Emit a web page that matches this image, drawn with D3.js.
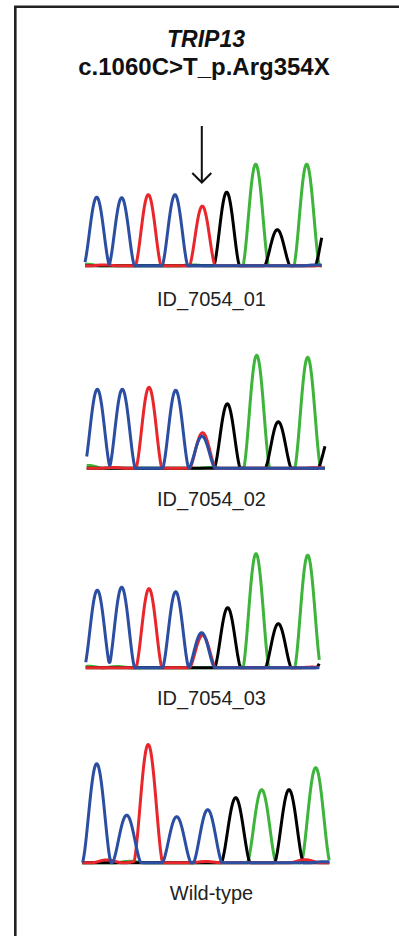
<!DOCTYPE html>
<html>
<head>
<meta charset="utf-8">
<script src="https://cdn.jsdelivr.net/npm/d3@7"></script>
<style>
  body { margin: 0; background: #fff; }
  svg { display: block; font-family: "Liberation Sans", Arial, sans-serif; }
</style>
</head>
<body>
<div id="chart-div"></div>
<script>
// gene / variant
const geneName = "TRIP13";
const variantName = "c.1060C>T_p.Arg354X";

const sampleNames = ["ID_7054_01", "ID_7054_02", "ID_7054_03", "Wild-type"];

// base calls, peak scan positions and peak heights (RFU)
const calls01 = ["C", "C", "T", "C", "T", "G", "A", "G", "A", "G"];
const scan01 = [16.7, 41.7, 68.3, 95, 122.3, 146.7, 175.7, 197.3, 226.7, 248];
const signal01 = [685, 680, 710, 710, 595, 735, 1015, 360, 1015, 470];

const calls02 = ["C", "C", "T", "C", "T", "G", "A", "G", "A", "G"];
const scan02 = [17.3, 42.3, 69, 95.7, 122.6, 147.3, 176.7, 198.3, 227.7, 251];
const signal02 = [790, 790, 810, 780, 355, 645, 1130, 465, 1110, 345];

const calls03 = ["C", "C", "T", "C", "T", "G", "A", "G", "A", "G"];
const scan03 = [17.3, 41.7, 69, 95.7, 122.6, 147.7, 176, 198.3, 227.7, 249];
const signal03 = [775, 805, 790, 760, 325, 600, 1140, 440, 1125, 170];

const callsWt = ["C", "C", "T", "C", "C", "G", "A", "G", "A"];
const scanWt = [16.7, 46.7, 68.3, 96.7, 127.7, 155.7, 181.7, 209, 235.7];
const signalWt = [990, 475, 1170, 460, 530, 650, 730, 730, 950];

// secondary (heterozygous) peaks and small baseline bumps: [base, scan, signal]
const minor01 = [["A", 7, 14], ["T", 24, 8], ["A", 112, 8], ["C", 236, 8]];
const minor02 = [["C", 122, 320], ["A", 9, 28], ["T", 34, 8], ["A", 130, 8], ["T", 236, 6]];
const minor03 = [["C", 121.6, 350], ["A", 9, 14], ["A", 37, 12], ["T", 232, 6]];
const minorWt = [["T", 27, 28], ["A", 50, 14], ["T", 61, 20], ["T", 126, 12], ["T", 225, 30], ["C", 244, 10]];

// scan window shown for each sample
const window01 = [5, 241.7];
const window02 = [6.7, 245];
const window03 = [5.7, 239.3];
const windowWt = [2.3, 249.3];

const baseColor = { A: "#3db43a", C: "#2b4ea3", G: "#000000", T: "#e8262b" };
const drawOrder = ["A", "G", "T", "C"];

const width = 399;
const height = 936;

const svg = d3.select('#chart-div').append('svg')
    .attr('width', width)
    .attr('height', height)
    .attr('viewBox', [0, 0, width, height]);

svg.append('rect')
    .attr('width', width)
    .attr('height', height)
    .attr('fill', '#fff');

// frame (only top and left edges fall inside the picture)
svg.append('path')
    .attr('d', `M15.3,${height + 5} L15.3,6.8 L${width + 5},6.8`)
    .attr('fill', 'none')
    .attr('stroke', '#222')
    .attr('stroke-width', 2.6);

// title
svg.append('text')
    .attr('x', 206)
    .attr('y', 46.5)
    .attr('text-anchor', 'middle')
    .attr('font-size', '23px')
    .attr('font-weight', 'bold')
    .attr('font-style', 'italic')
    .attr('fill', '#111')
    .text(geneName);

svg.append('text')
    .attr('x', 204)
    .attr('y', 75)
    .attr('text-anchor', 'middle')
    .attr('font-size', '24px')
    .attr('font-weight', 'bold')
    .attr('fill', '#111')
    .text(variantName);

// peak half-width (scans) differs a bit per run
const panels = [
  { calls: calls01, scan: scan01, signal: signal01, minor: minor01, win: window01, halfWidth: 13 },
  { calls: calls02, scan: scan02, signal: signal02, minor: minor02, win: window02, halfWidth: 13.2 },
  { calls: calls03, scan: scan03, signal: signal03, minor: minor03, win: window03, halfWidth: 13.2 },
  { calls: callsWt, scan: scanWt, signal: signalWt, minor: minorWt, win: windowWt, halfWidth: 14.5 }
];

// layout: baseline of each trace and baseline of its label
const baselines = [265.7, 468.3, 667.7, 862.7];
const labelY = [305.5, 505.5, 705, 900];

const xScale = d3.scaleLinear()
    .domain([0, 260])
    .range([80, 340]);

// peak shape
const kernel = (d, w) => Math.abs(d) >= w ? 0 : Math.pow(Math.cos(Math.PI * d / (2 * w)), 1.6);

panels.forEach((p, i) => {

    const yScale = d3.scaleLinear()
        .domain([0, 1200])
        .range([baselines[i], baselines[i] - 120]);

    const peaks = p.calls.map((b, j) => ({ base: b, scan: p.scan[j], signal: p.signal[j] }))
        .concat(p.minor.map(m => ({ base: m[0], scan: m[1], signal: m[2] })));

    const steps = d3.range(p.win[0], p.win[1], 0.25).concat([p.win[1]]);

    const line = d3.line()
        .x(d => xScale(d[0]))
        .y(d => yScale(d[1]));

    const g = svg.append('g').attr('class', 'trace');

    drawOrder.forEach(base => {
        const own = peaks.filter(d => d.base === base);
        const pts = steps.map(s => [s, d3.sum(own, d => d.signal * kernel(s - d.scan, p.halfWidth))]);
        g.append('path')
            .datum(pts)
            .attr('d', line)
            .attr('fill', 'none')
            .attr('stroke', baseColor[base])
            .attr('stroke-width', 3)
            .attr('stroke-linejoin', 'round');
    });

    svg.append('text')
        .attr('x', 211.5)
        .attr('y', labelY[i])
        .attr('text-anchor', 'middle')
        .attr('font-size', '20px')
        .attr('fill', '#222')
        .text(sampleNames[i]);
});

// arrow over the mutated base in the first sample
const ax = xScale(scan01[4]) - 0.5;
svg.append('path')
    .attr('d', `M${ax},126 L${ax},182.5 M${ax - 9.5},173 L${ax},182.5 L${ax + 9.5},173`)
    .attr('fill', 'none')
    .attr('stroke', '#111')
    .attr('stroke-width', 2);
</script>
</body>
</html>
